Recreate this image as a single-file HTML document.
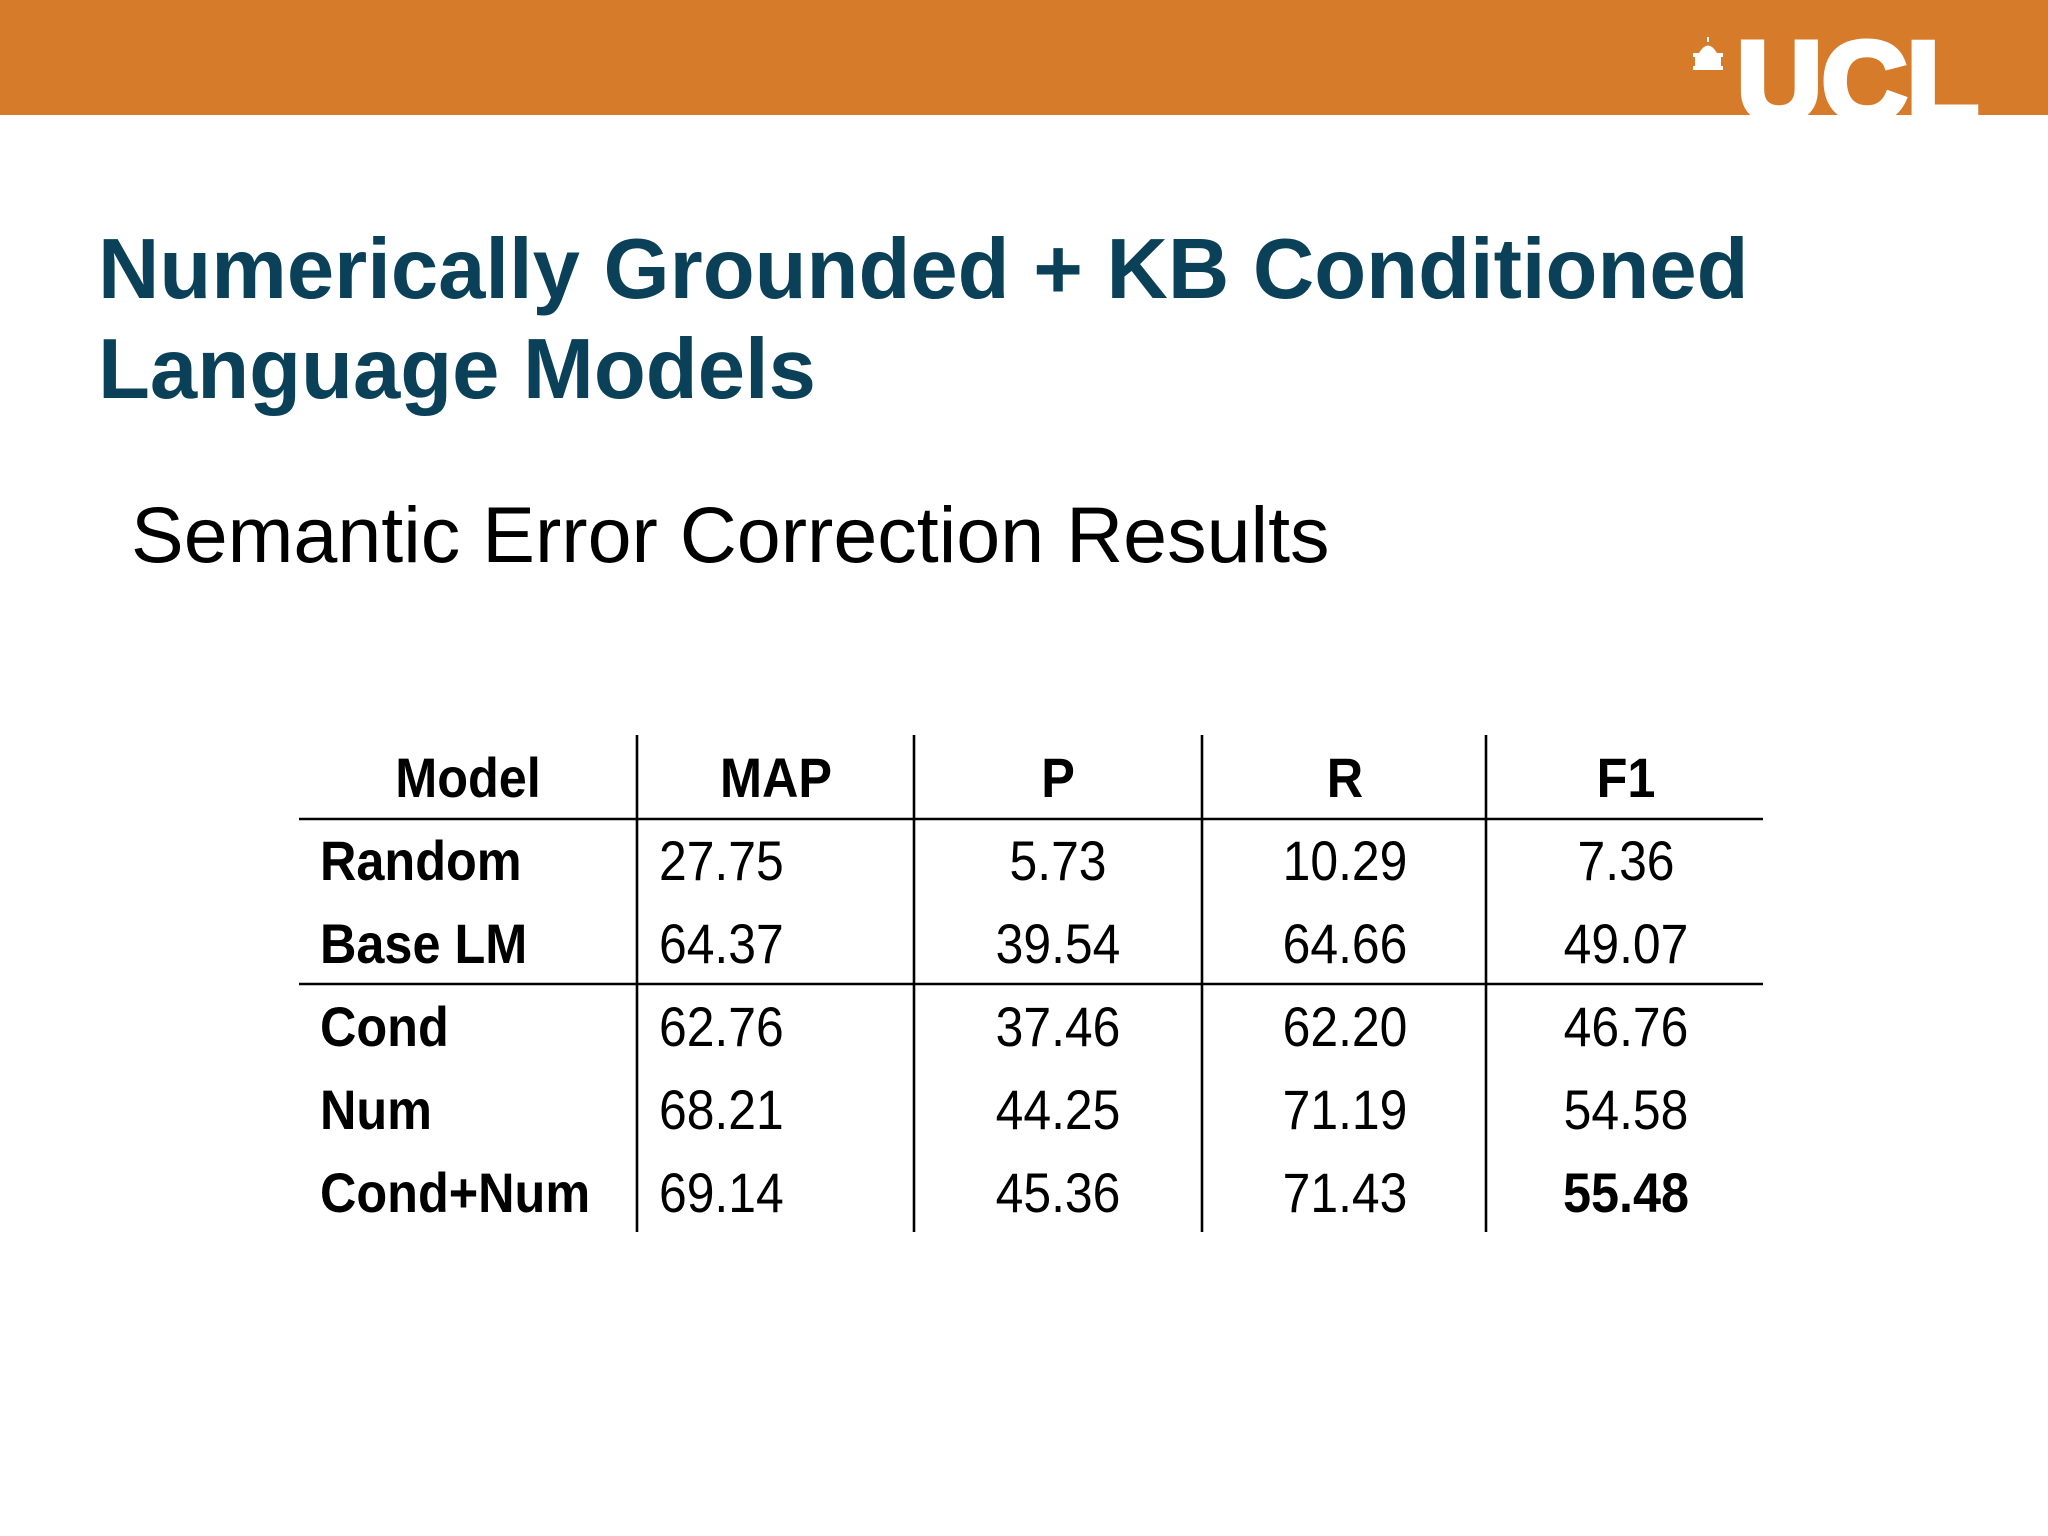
<!DOCTYPE html>
<html><head><meta charset="utf-8"><style>
html,body{margin:0;padding:0;background:#fff;}
svg{display:block;}
</style></head><body>
<svg id="slide" width="2048" height="1536" viewBox="0 0 2048 1536" xmlns="http://www.w3.org/2000/svg" font-family="Liberation Sans, Arial, sans-serif">
  <defs><clipPath id="barclip"><rect x="0" y="0" width="2048" height="115"/></clipPath></defs>
  <g>
    <rect x="0" y="0" width="2048" height="115" fill="#d57b2a"/>
    <g clip-path="url(#barclip)">
      <g fill="#fff">
        <rect x="1693" y="66" width="30" height="4"/>
        <rect x="1695" y="57" width="26" height="9"/>
        <rect x="1693" y="53" width="30" height="4"/>
        <path d="M1699 53 Q1708 38 1717 53 Z"/>
        <rect x="1707" y="37" width="2" height="5"/>
      </g>
      <text x="1737" y="120" font-size="112" font-weight="bold" fill="#fff" stroke="#fff" stroke-width="6" transform="translate(1737 0) scale(1.05 1) translate(-1737 0)">UCL</text>
    </g>
  </g>
  <text font-size="85" font-weight="bold" fill="#0a4159">
    <tspan x="98" y="298">Numerically Grounded + KB Conditioned</tspan>
    <tspan x="98" y="398">Language Models</tspan>
  </text>
  <text x="131" y="562" font-size="79" fill="#000">Semantic Error Correction Results</text>
  <g id="table"></g>
</svg>
<script>
const headers = ["Model","MAP","P","R","F1"];
const models = ["Random","Base LM","Cond","Num","Cond+Num"];
const mapVals = ["27.75","64.37","62.76","68.21","69.14"];
const pVals = ["5.73","39.54","37.46","44.25","45.36"];
const rVals = ["10.29","64.66","62.20","71.19","71.43"];
const f1Vals = ["7.36","49.07","46.76","54.58","55.48"];
const boldCells = ["4-4"];

const NS = "http://www.w3.org/2000/svg";
const g = document.getElementById('table');
const headCenters = [468, 776, 1058, 1345, 1626];
const headerY = 797, row0Y = 880, pitch = 83;
function rowY(i){ return row0Y + i*pitch; }
function addText(txt, x, y, anchor, bold, name){
  const t = document.createElementNS(NS,'text');
  
  
  const sx = bold ? 0.9 : 0.89;
  t.setAttribute('transform', 'translate('+x+' '+y+') scale('+sx+' 1)');
  t.setAttribute('x', 0); t.setAttribute('y', 0);
  t.setAttribute('font-size', 56);
  if (bold) t.setAttribute('font-weight', 'bold');
  t.setAttribute('text-anchor', anchor);
  t.setAttribute('fill', '#000');
  t.textContent = txt;
  g.appendChild(t);
}
function addLine(x1,y1,x2,y2,name){
  const l = document.createElementNS(NS,'line');
  
  
  l.setAttribute('x1',x1);l.setAttribute('y1',y1);l.setAttribute('x2',x2);l.setAttribute('y2',y2);
  l.setAttribute('stroke','#000');l.setAttribute('stroke-width',2.6);
  g.appendChild(l);
}
headers.forEach((h,i)=>addText(h, headCenters[i], headerY, 'middle', true, 'header-'+h.toLowerCase()));
const cols = [mapVals, pVals, rVals, f1Vals];
models.forEach((m,i)=>{
  addText(m, 320, rowY(i), 'start', true, 'row-label-'+m.toLowerCase().replace(/[^a-z]+/g,'-'));
  cols.forEach((arr,c)=>{
    const bold = boldCells.indexOf(i+'-'+(c+1)) >= 0;
    if (c===0) addText(arr[i], 659, rowY(i), 'start', bold, 'cell-'+headers[c+1].toLowerCase()+'-'+i);
    else addText(arr[i], headCenters[c+1], rowY(i), 'middle', bold, 'cell-'+headers[c+1].toLowerCase()+'-'+i);
  });
});
addLine(299,819,1763,819,'header-rule');
addLine(299,984,1763,984,'group-rule');
[637,914,1202,1486].forEach((x,i)=>addLine(x,735,x,1232,'column-divider-'+(i+1)));
</script>
</body></html>
